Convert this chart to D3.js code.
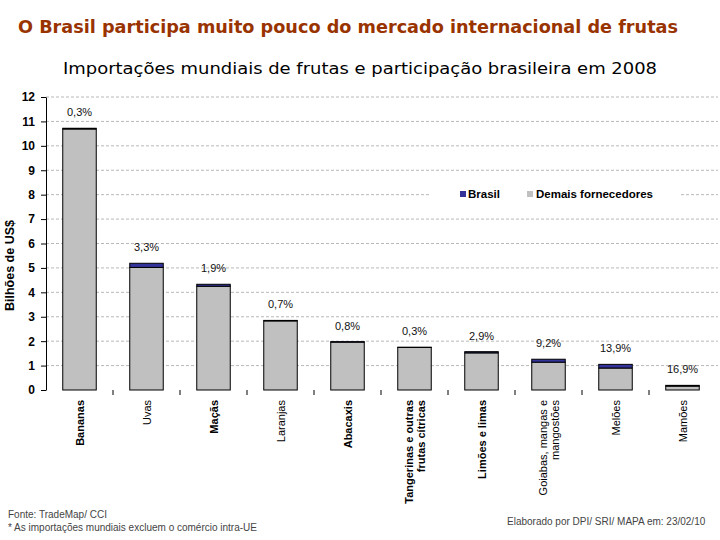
<!DOCTYPE html>
<html>
<head>
<meta charset="utf-8">
<script src="https://cdn.jsdelivr.net/npm/d3@7"></script>
<style>
    body { margin: 0; background: #fff; }
    svg { font-family: "Liberation Sans", Arial, sans-serif; }
    .title { font-family: "DejaVu Sans Condensed", "DejaVu Sans", Verdana, sans-serif; font-weight: bold; fill: #993300; }
    .subtitle { font-family: "DejaVu Sans Condensed", "DejaVu Sans", Verdana, sans-serif; fill: #000; }
    .grid line { stroke: #b8b8b8; stroke-dasharray: 3,2; }
    .y-axis text { font-size: 12px; font-weight: bold; fill: #000; }
    .y-axis path, .y-axis line { stroke: #000; }
    .bar { stroke: #000; stroke-width: 1; }
    .share { font-size: 11px; fill: #111; text-anchor: middle; }
    .cat { font-size: 11px; fill: #000; }
    .legend-text { font-size: 11.5px; font-weight: bold; fill: #000; }
    .note { font-size: 10px; fill: #444; }
</style>
</head>
<body>
<div id="chart"></div>
<script>
// Data (billions of US$, 2008)
const categories = ['Bananas', 'Uvas', 'Maçãs', 'Laranjas', 'Abacaxis',
    'Tangerinas e outras|frutas cítricas', 'Limões e limas', 'Goiabas, mangas e|mangostões', 'Melões', 'Mamões'];
const boldCats = [true, false, true, false, true, true, true, false, false, false];
const brasil = [0.03, 0.17, 0.08, 0.02, 0.02, 0.005, 0.05, 0.12, 0.15, 0.03];
const demais = [10.69, 5.02, 4.25, 2.83, 1.96, 1.745, 1.52, 1.14, 0.90, 0.16];
const shares = ['0,3%', '3,3%', '1,9%', '0,7%', '0,8%', '0,3%', '2,9%', '9,2%', '13,9%', '16,9%'];
const yTicks = [0, 1, 2, 3, 4, 5, 6, 7, 8, 9, 10, 11, 12];

const width = 720, height = 540;
// plot area edges
const plotLeft = 46, plotRight = 716, plotTop = 97, plotBottom = 390;

const svg = d3.select('#chart').append('svg').attr('width', width).attr('height', height);

// Titles
svg.append('text').classed('title', true).attr('x', 18).attr('y', 33)
    .attr('font-size', 18).attr('textLength', 660).attr('lengthAdjust', 'spacingAndGlyphs')
    .text('O Brasil participa muito pouco do mercado internacional de frutas');
svg.append('text').classed('subtitle', true).attr('x', 63).attr('y', 74)
    .attr('font-size', 16).attr('textLength', 594).attr('lengthAdjust', 'spacingAndGlyphs')
    .text('Importações mundiais de frutas e participação brasileira em 2008');

// Scales
const data = categories.map((c, i) => ({ cat: c, demais: demais[i], brasil: brasil[i] }));
const x = d3.scaleBand().domain(categories).range([plotLeft, plotRight]).paddingInner(0.5).paddingOuter(0.25);
const y = d3.scaleLinear().domain([0, 12]).range([plotBottom, plotTop]);

// Grid lines
svg.append('g').classed('grid', true).selectAll('line')
    .data(yTicks.filter(d => d > 0)).join('line')
    .attr('x1', plotLeft).attr('x2', plotRight + 2)
    .attr('y1', d => y(d)).attr('y2', d => y(d));

// Y axis
const yAxis = svg.append('g').classed('y-axis', true).attr('transform', `translate(${plotLeft},0)`)
    .call(d3.axisLeft(y).tickValues(yTicks).tickSize(5).tickPadding(6).tickSizeOuter(0));
yAxis.selectAll('text').attr('font-family', '"Liberation Sans", Arial, sans-serif');

svg.append('text').attr('transform', `translate(14,${(plotTop + plotBottom) / 2 + 22})rotate(-90)`)
    .attr('text-anchor', 'middle').attr('font-size', 12.5).attr('font-weight', 'bold')
    .text('Bilhões de US$');

// Category separator ticks
svg.append('g').selectAll('line')
    .data(categories.slice(1)).join('line')
    .attr('x1', d => x(d) - x.step() * 0.25).attr('x2', d => x(d) - x.step() * 0.25)
    .attr('y1', plotBottom).attr('y2', plotBottom + 5).attr('stroke', '#000');

// Stacked bars
const stack = d3.stack().keys(['demais', 'brasil'])(data);
const colors = { demais: '#c0c0c0', brasil: '#333399' };
svg.append('g').selectAll('g').data(stack).join('g')
    .attr('fill', s => colors[s.key])
    .selectAll('rect').data(s => s).join('rect').classed('bar', true)
    .attr('x', d => x(d.data.cat)).attr('width', x.bandwidth())
    .attr('y', d => y(d[1])).attr('height', d => y(d[0]) - y(d[1]));

// Share labels above bars
svg.append('g').selectAll('text').data(data).join('text').classed('share', true)
    .attr('x', d => x(d.cat) + x.bandwidth() / 2)
    .attr('y', d => y(d.demais + d.brasil) - 12)
    .text((d, i) => shares[i]);

// Category labels (rotated, multi-line where needed)
const cat = svg.append('g').selectAll('text').data(categories).join('text').classed('cat', true)
    .attr('text-anchor', 'end')
    .attr('font-weight', (d, i) => boldCats[i] ? 'bold' : 'normal')
    .attr('transform', d => `translate(${x(d) + x.bandwidth() / 2 + 4},${plotBottom + 10})rotate(-90)`);
cat.each(function (d) {
    const lines = d.split('|');
    const t = d3.select(this);
    lines.forEach((l, j) => {
        t.append('tspan').attr('x', 0).attr('dy', j === 0 ? -(lines.length - 1) * 6 : 12).text(l);
    });
});

// Legend
const legend = svg.append('g').attr('transform', 'translate(430,186)');
legend.append('rect').attr('width', 250).attr('height', 17).attr('fill', '#fff');
legend.append('rect').attr('x', 30).attr('y', 5).attr('width', 6).attr('height', 6).attr('fill', colors.brasil);
legend.append('text').classed('legend-text', true).attr('x', 38).attr('y', 12).text('Brasil');
legend.append('rect').attr('x', 97).attr('y', 5).attr('width', 6).attr('height', 6).attr('fill', colors.demais);
legend.append('text').classed('legend-text', true).attr('x', 106).attr('y', 12).text('Demais fornecedores');

// Footer notes
svg.append('text').classed('note', true).attr('x', 8).attr('y', 518).text('Fonte: TradeMap/ CCI');
svg.append('text').classed('note', true).attr('x', 8).attr('y', 531).text('* As importações mundiais excluem o comércio intra-UE');
svg.append('text').classed('note', true).attr('x', 507).attr('y', 525).text('Elaborado por DPI/ SRI/ MAPA em: 23/02/10');
</script>
</body>
</html>
